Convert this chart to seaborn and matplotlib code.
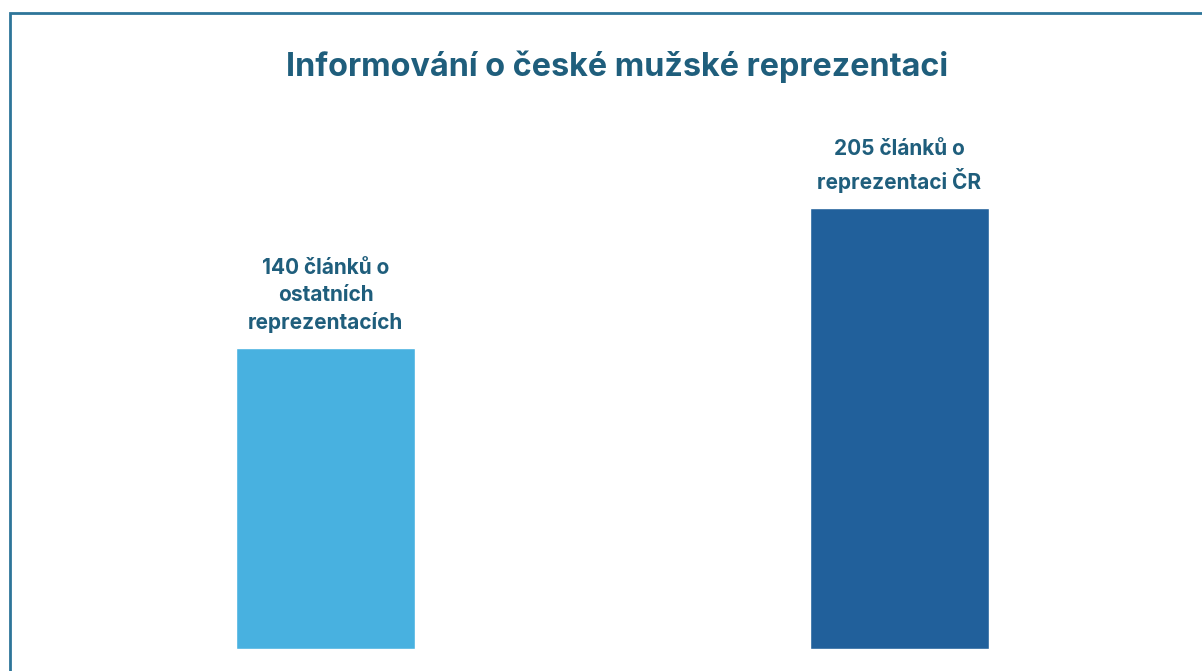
import matplotlib
matplotlib.use("Agg")
import matplotlib.pyplot as plt
import seaborn as sns
import pandas as pd
from matplotlib.patches import Rectangle

# data
categories = ["ostatní reprezentace", "reprezentace ČR"]
values = [140, 205]
labels = ["140 článků o\nostatních\nreprezentacích", "205 článků o\nreprezentaci ČR"]
colors = ["#48B1E0", "#21609B"]
title = "Informování o české mužské reprezentaci"

text_color = "#1F5E7C"
frame_color = "#2E7599"

sns.set_theme(style="white")
plt.rcParams["font.family"] = ["Inter", "DejaVu Sans"]

df = pd.DataFrame({"kat": categories, "pocet": values})

fig = plt.figure(figsize=(12.02, 6.71), dpi=100)
ax = fig.add_axes([0, 0, 1, 1])
sns.barplot(data=df, x="kat", y="pocet", hue="kat", palette=colors,
            width=0.312, legend=False, ax=ax, saturation=1)

# scale so that bars sit like in the original
ax.set_xlim(-0.567, 1.527)
ax.set_ylim(-10.2, 301.7)
ax.axis("off")

for i, (v, lab) in enumerate(zip(values, labels)):
    ax.annotate(lab, xy=(i, v), xytext=(0, 11), textcoords="offset points",
                ha="center", va="bottom", fontsize=15, fontweight="bold",
                color=text_color, linespacing=1.4)

fig.text(0.513, 0.9, title, ha="center", va="center", fontsize=23.3,
         fontweight="bold", color=text_color)

# thin frame on left and top (cut off at right and bottom)
fig.patches.append(Rectangle((0.0083, -0.1), 1.2, 1.081, transform=fig.transFigure,
                             fill=False, edgecolor=frame_color, linewidth=2))

fig.savefig("out.png", dpi=100)
